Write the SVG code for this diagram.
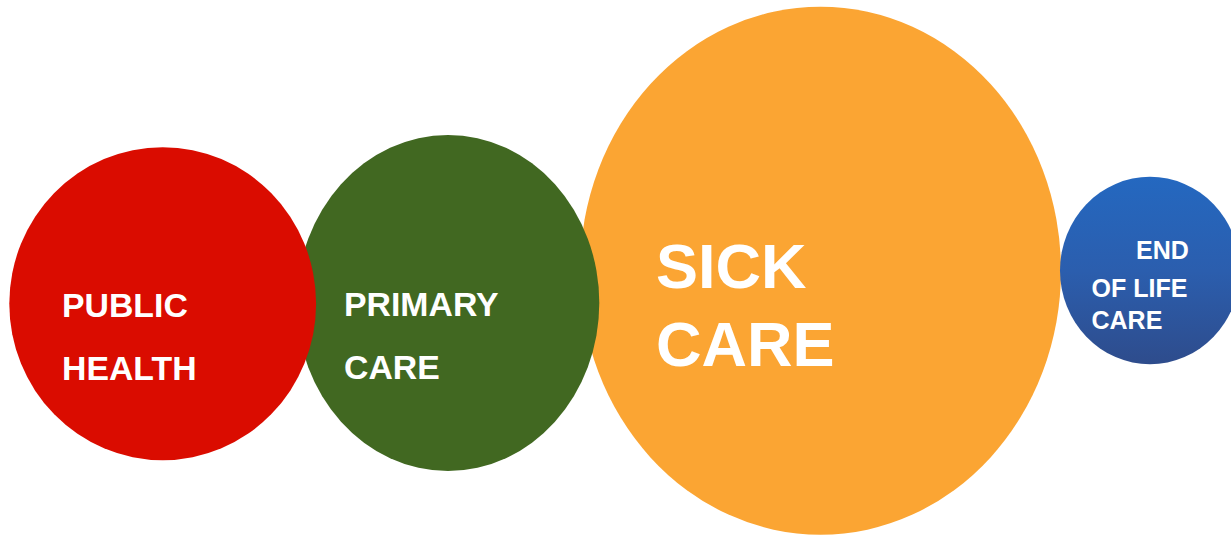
<svg xmlns="http://www.w3.org/2000/svg" width="1231" height="535" viewBox="0 0 1231 535">
<defs>
<linearGradient id="blueGrad" x1="0" y1="0" x2="0" y2="1">
<stop offset="0" stop-color="#2468C0"/>
<stop offset="0.5" stop-color="#2B5EAE"/>
<stop offset="1" stop-color="#2E4C8C"/>
</linearGradient>
<style>
.lbl{font-family:"Liberation Sans",Arial,sans-serif;font-weight:bold;fill:#FFFFFF}
.s33{font-size:33.8px}
.s63{font-size:63px}
.s25{font-size:25px}
</style>
</defs>
<rect width="1231" height="535" fill="#FFFFFF"/>
<g id="sick-care">
<ellipse cx="820.5" cy="270.7" rx="240.5" ry="264" fill="#FBA533"/>
<text class="lbl s63" x="656" y="288">SICK</text>
<text class="lbl s63" x="656" y="366">CARE</text>
</g>
<g id="primary-care">
<ellipse cx="448" cy="303" rx="151.3" ry="168" fill="#416821"/>
<text class="lbl s33" x="344" y="316">PRIMARY</text>
<text class="lbl s33" x="344" y="378.5">CARE</text>
</g>
<g id="public-health">
<ellipse cx="162.7" cy="303.7" rx="153.4" ry="156.5" fill="#DA0C00"/>
<text class="lbl s33" x="62" y="317">PUBLIC</text>
<text class="lbl s33" x="62" y="379.5">HEALTH</text>
</g>
<g id="end-of-life-care">
<ellipse cx="1150" cy="270.5" rx="90" ry="93.7" fill="url(#blueGrad)"/>
<text class="lbl s25" x="1136" y="258.5">END</text>
<text class="lbl s25" x="1091.5" y="297">OF LIFE</text>
<text class="lbl s25" x="1091.5" y="328.5">CARE</text>
</g>
<g id="connectors"/>
</svg>
